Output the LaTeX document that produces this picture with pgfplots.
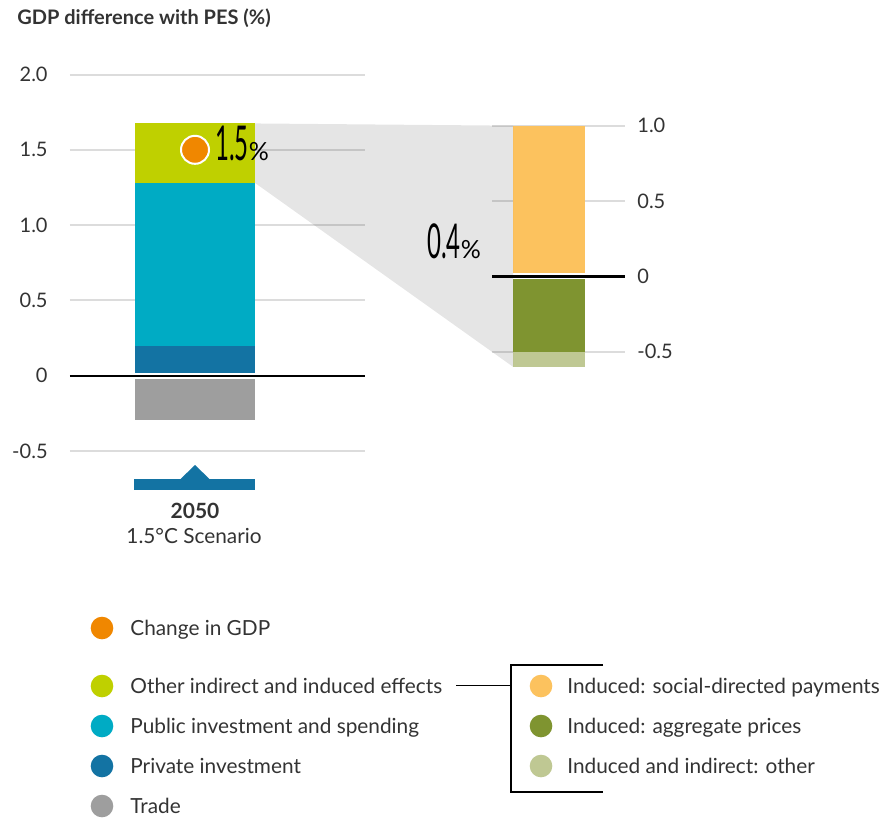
\documentclass[border=0pt]{standalone}
\usepackage{pgfplots}
\pgfplotsset{compat=1.18}
\usepackage{fontspec}
\setmainfont{Lato}
\usepackage{graphicx}
\definecolor{cOther}{HTML}{BFD000}
\definecolor{cPublic}{HTML}{00ABC4}
\definecolor{cPrivate}{HTML}{1373A3}
\definecolor{cTrade}{HTML}{9E9E9E}
\definecolor{cGDP}{HTML}{F08700}
\definecolor{cSocial}{HTML}{FCC25E}
\definecolor{cAgg}{HTML}{7F9430}
\definecolor{cIndOther}{HTML}{BFC893}
\definecolor{gridc}{HTML}{DCDCDC}
\definecolor{txt}{HTML}{333333}
\pgfplotsset{
  common/.style={
    scale only axis, axis line style={draw=none}, major tick length=0pt,
    ymajorgrids, grid style={draw=gridc, line width=1pt}, xtick=\empty, clip=false,
    ticklabel style={font=\fontsize{10}{12}\selectfont, text=txt, inner sep=0pt},
  },
  seg/.style={ybar, bar width=#1, bar shift=0pt, draw=none},
}
\begin{document}
\begin{tikzpicture}
\path[use as bounding box] (0,0) rectangle (441.5pt,-409.5pt);
% left axis
\begin{axis}[common, at={(35pt,-225.5pt)}, anchor=south west,
  width=147.5pt, height=188.25pt, xmin=0, xmax=295, ymin=-0.5, ymax=2,
  ytick={-0.5,0,0.5,1,1.5,2}, yticklabels={-0.5,0,0.5,1.0,1.5,2.0},
  yticklabel style={anchor=east, xshift=-11pt}]
\addplot[seg=60pt, fill=cOther] coordinates {(125,1.675)};
\addplot[seg=60pt, fill=cPublic] coordinates {(125,1.28)};
\addplot[seg=60pt, fill=cPrivate] coordinates {(125,0.20)};
\addplot[seg=60pt, fill=cTrade] coordinates {(125,-0.295)};
\draw[white, line width=3pt] (axis cs:0,0) -- (axis cs:295,0);
\draw[black, line width=1.2pt] (axis cs:0,0) -- (axis cs:295,0);
\addplot[only marks, mark=*, mark size=7pt, mark options={fill=cGDP, draw=white, line width=1pt}] coordinates {(125,1.5)};
\coordinate (L1) at (axis cs:185,1.675);
\coordinate (L2) at (axis cs:185,1.28);
\end{axis}
% right axis
\begin{axis}[common, at={(246pt,-175.85pt)}, anchor=south west,
  width=66.5pt, height=113pt, xmin=0, xmax=133, ymin=-0.5, ymax=1,
  ytick={-0.5,0,0.5,1}, yticklabels={-0.5,0,0.5,1.0},
  yticklabel pos=right, yticklabel style={anchor=west, xshift=6pt}]
\addplot[seg=36pt, fill=cSocial] coordinates {(57,1.0)};
\addplot[seg=36pt, fill=cIndOther] coordinates {(57,-0.6)};
\addplot[seg=36pt, fill=cAgg] coordinates {(57,-0.5)};
\draw[white, line width=3pt] (axis cs:0,0) -- (axis cs:133,0);
\draw[black, line width=1.2pt] (axis cs:0,0) -- (axis cs:133,0);
\coordinate (R1) at (axis cs:21,1.0);
\coordinate (R2) at (axis cs:21,-0.6);
\end{axis}
\fill[black, fill opacity=0.1] (L1) -- (R1) -- (R2) -- (L2) -- cycle;
\begin{scope}[x=0.5pt, y=-0.5pt, every node/.style={inner sep=0pt, text=txt}]
\node[anchor=base west, font=\bfseries\fontsize{10}{12}\selectfont] at (17,25) {GDP difference with PES (\%)};
\node[anchor=base west, text=black] at (215,160) {{\fontsize{24}{24}\selectfont\scalebox{0.5}[1]{1.5}}{\fontsize{12.5}{13}\selectfont\%}};
\node[anchor=base west, text=black] at (427,258) {{\fontsize{24}{24}\selectfont\scalebox{0.5}[1]{0.4}}{\fontsize{12.5}{13}\selectfont\%}};
% category marker
\fill[cPrivate] (134,479) rectangle (255,490);
\fill[cPrivate] (180,479.5) -- (195,465) -- (210,479.5) -- cycle;
\node[anchor=base, font=\bfseries\fontsize{10.5}{12}\selectfont] at (195,518) {2050};
\node[anchor=base, font=\fontsize{10.4}{12}\selectfont] at (194,543) {1.5°C Scenario};
% legend
\begin{scope}[every node/.append style={anchor=base west, font=\fontsize{10.4}{12}\selectfont}]
\fill[cGDP] (102,628) circle (5.65pt);
\node at (130,635) {Change in GDP};
\fill[cOther] (102,686) circle (5.65pt);
\node at (130,693) {Other indirect and induced effects};
\fill[cPublic] (102,726) circle (5.65pt);
\node at (130,733) {Public investment and spending};
\fill[cPrivate] (102,766) circle (5.65pt);
\node at (130,773) {Private investment};
\fill[cTrade] (102,806) circle (5.65pt);
\node at (130,813) {Trade};
\draw[black, line width=0.9pt] (456,685.5) -- (511,685.5);
\draw[black, line width=0.9pt] (603,665) -- (511,665) -- (511,792) -- (603,792);
\fill[cSocial] (541,686) circle (5.65pt);
\node at (567,693) {Induced: social-directed payments};
\fill[cAgg] (541,726) circle (5.65pt);
\node at (567,733) {Induced: aggregate prices};
\fill[cIndOther] (541,766) circle (5.65pt);
\node at (567,773) {Induced and indirect: other};
\end{scope}
\end{scope}
\end{tikzpicture}
\end{document}
